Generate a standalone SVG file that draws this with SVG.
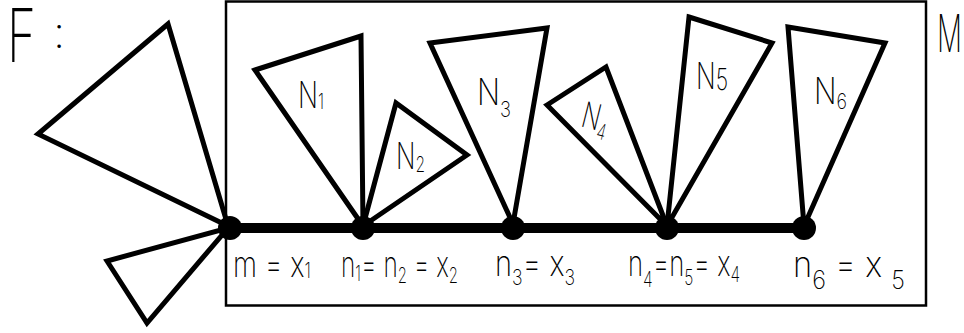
<svg xmlns="http://www.w3.org/2000/svg" width="964" height="333" viewBox="0 0 964 333">
<style>
.tri{fill:none;stroke:#000;stroke-width:5;stroke-linejoin:miter}
.dot{fill:#000}
.t{font-family:Inter,"DejaVu Sans",sans-serif;font-weight:200;fill:#000}
.lbl{font-size:36px}
.bot{font-size:36px}
.s{font-size:22px}
</style>
<rect x="226" y="1.5" width="700" height="304" fill="none" stroke="#000" stroke-width="2.5"/>
<text class="t" x="7" y="62" font-size="74" font-weight="100" textLength="29" lengthAdjust="spacingAndGlyphs">F</text>
<text class="t" x="53" y="48" font-size="44" font-weight="100">:</text>
<text class="t" x="937" y="52" font-size="52" font-weight="100" textLength="25" lengthAdjust="spacingAndGlyphs">M</text>
<g id="connectors">
<line x1="230" y1="228" x2="804" y2="228" stroke="#000" stroke-width="10"/>
</g>
<g id="F1"><polygon class="tri" points="38,134 168,24 228,226"/></g>
<g id="F2"><polygon class="tri" points="107,261 147,323 228,228"/></g>
<g id="N1"><polygon class="tri" points="255,70 361,36 363,226"/><text class="t lbl" x="298" y="108" textLength="26" lengthAdjust="spacingAndGlyphs">N<tspan class="s" dy="1">1</tspan></text></g>
<g id="N2"><polygon class="tri" points="363,226 396,103 467,155"/><text class="t lbl" x="396" y="169" font-size="32" textLength="29" lengthAdjust="spacingAndGlyphs">N<tspan class="s" dy="3">2</tspan></text></g>
<g id="N3"><polygon class="tri" points="430,43 547,28 513,224"/><text class="t lbl" x="477" y="105" font-size="38" textLength="34" lengthAdjust="spacingAndGlyphs">N<tspan class="s" dy="12" font-size="24">3</tspan></text></g>
<g id="N4"><polygon class="tri" points="547,105 606,67 667,226"/><text class="t lbl" x="581" y="129" font-size="30" textLength="27" lengthAdjust="spacingAndGlyphs" transform="rotate(14 592 122)">N<tspan class="s" dy="8">4</tspan></text></g>
<g id="N5"><polygon class="tri" points="689,17 772,43 667,226"/><text class="t lbl" x="696" y="89" textLength="32" lengthAdjust="spacingAndGlyphs">N<tspan dy="1" font-size="30">5</tspan></text></g>
<g id="N6"><polygon class="tri" points="788,27 885,43 804,226"/><text class="t lbl" x="814" y="104" textLength="33" lengthAdjust="spacingAndGlyphs">N<tspan class="s" dy="5">6</tspan></text></g>
<g id="x1"><circle class="dot" cx="230" cy="228" r="12"/>
<text class="t bot" x="233" y="277" textLength="78" lengthAdjust="spacingAndGlyphs">m = x<tspan class="s" dy="1">1</tspan></text></g>
<g id="x2"><circle class="dot" cx="363" cy="228" r="12"/>
<text class="t bot" x="341" y="277" textLength="117" lengthAdjust="spacingAndGlyphs">n<tspan class="s" dy="4">1</tspan><tspan dy="-4">= n</tspan><tspan class="s" dy="6">2</tspan><tspan dy="-6"> = x</tspan><tspan class="s" dy="6">2</tspan></text></g>
<g id="x3"><circle class="dot" cx="513" cy="228" r="12"/>
<text class="t bot" x="495" y="276" textLength="80" lengthAdjust="spacingAndGlyphs">n<tspan class="s" dy="9">3</tspan><tspan dy="-9">= x</tspan><tspan class="s" dy="9">3</tspan></text></g>
<g id="x4"><circle class="dot" cx="667" cy="228" r="12"/>
<text class="t bot" x="628" y="276" textLength="112" lengthAdjust="spacingAndGlyphs">n<tspan class="s" dy="11">4</tspan><tspan dy="-11">=n</tspan><tspan class="s" dy="9">5</tspan><tspan dy="-9">= x</tspan><tspan class="s" dy="6">4</tspan></text></g>
<g id="x5"><circle class="dot" cx="804" cy="228" r="12"/>
<text class="t bot" x="793" y="277" textLength="112" lengthAdjust="spacingAndGlyphs">n<tspan dy="12" font-size="26">6</tspan><tspan dy="-12"> = x </tspan><tspan dy="12" font-size="26">5</tspan></text></g>
</svg>
